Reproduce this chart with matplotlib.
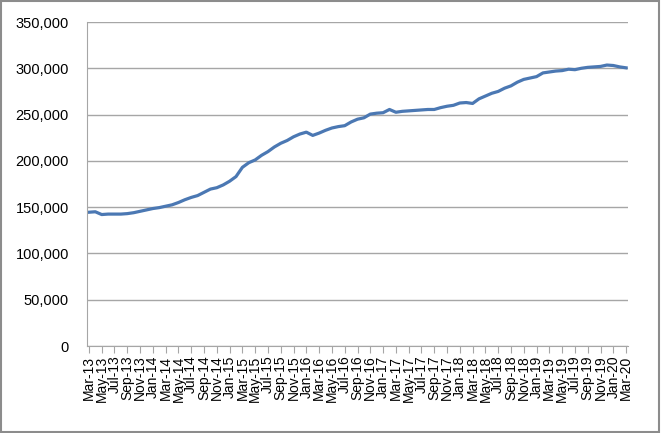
import matplotlib
matplotlib.use("Agg")
import matplotlib.pyplot as plt
from matplotlib.patches import Rectangle
from matplotlib.ticker import FuncFormatter, MultipleLocator

# monthly series, Mar-13 .. Mar-20
months = []
names = ["Jan", "Feb", "Mar", "Apr", "May", "Jun", "Jul", "Aug", "Sep", "Oct", "Nov", "Dec"]
for yr in range(13, 21):
    for mn in names:
        months.append(f"{mn}-{yr}")
months = months[2:2 + 85]

values = [144500, 145000, 142000, 142500, 142500, 142500, 143000, 144000, 145500, 147000,
          148500, 149500, 151000, 152500, 155000, 158000, 160500, 162500, 166000, 169500,
          171000, 174000, 178000, 183000, 193000, 198000, 201000, 206000, 210000, 215000,
          219000, 222000, 226000, 229000, 231000, 227500, 230000, 233000, 235500, 237000,
          238000, 242000, 245000, 246500, 250500, 251500, 252000, 255500, 252500, 253500,
          254000, 254500, 255000, 255500, 255500, 257500, 259000, 260000, 262500, 263000,
          262000, 267000, 270000, 273000, 275000, 278500, 281000, 285000, 288000, 289500,
          291000, 295000, 296000, 297000, 297500, 299000, 298500, 300000, 301000, 301500,
          302000, 303500, 303000, 301500, 300500]

fig = plt.figure(figsize=(6.61, 4.33), dpi=100)
ax = fig.add_axes([87 / 661, 1 - 346 / 433, (628 - 87) / 661, (346 - 22) / 433])

x = list(range(len(values)))
ax.plot(x, values, color="#4b78b3", lw=2.3, solid_joinstyle="round")

ax.set_ylim(0, 350000)
ax.set_xlim(-0.3, len(values) - 0.7)
ax.yaxis.set_major_locator(MultipleLocator(50000))
ax.yaxis.set_major_formatter(FuncFormatter(lambda v, p: f"{int(v):,}"))
ax.grid(axis="y", color="#a6a6a6", lw=1)
ax.set_axisbelow(True)

ax.set_xticks(x[::2])
ax.set_xticklabels(months[::2], rotation=90, fontsize=10, family="Liberation Sans")
ax.tick_params(axis="x", length=5, color="#a6a6a6", pad=2)
ax.tick_params(axis="y", length=0, pad=13)
for lab in ax.get_yticklabels():
    lab.set_fontsize(10.5)
    lab.set_family("Liberation Sans")

for s in ["top", "right"]:
    ax.spines[s].set_visible(False)
for s in ["left", "bottom"]:
    ax.spines[s].set_color("#a6a6a6")

fig.patches.append(Rectangle((0.002, 0.003), 0.995, 0.994, transform=fig.transFigure,
                             fill=False, edgecolor="#8c8c8c", lw=1.5))

fig.savefig("out.png", dpi=100)
